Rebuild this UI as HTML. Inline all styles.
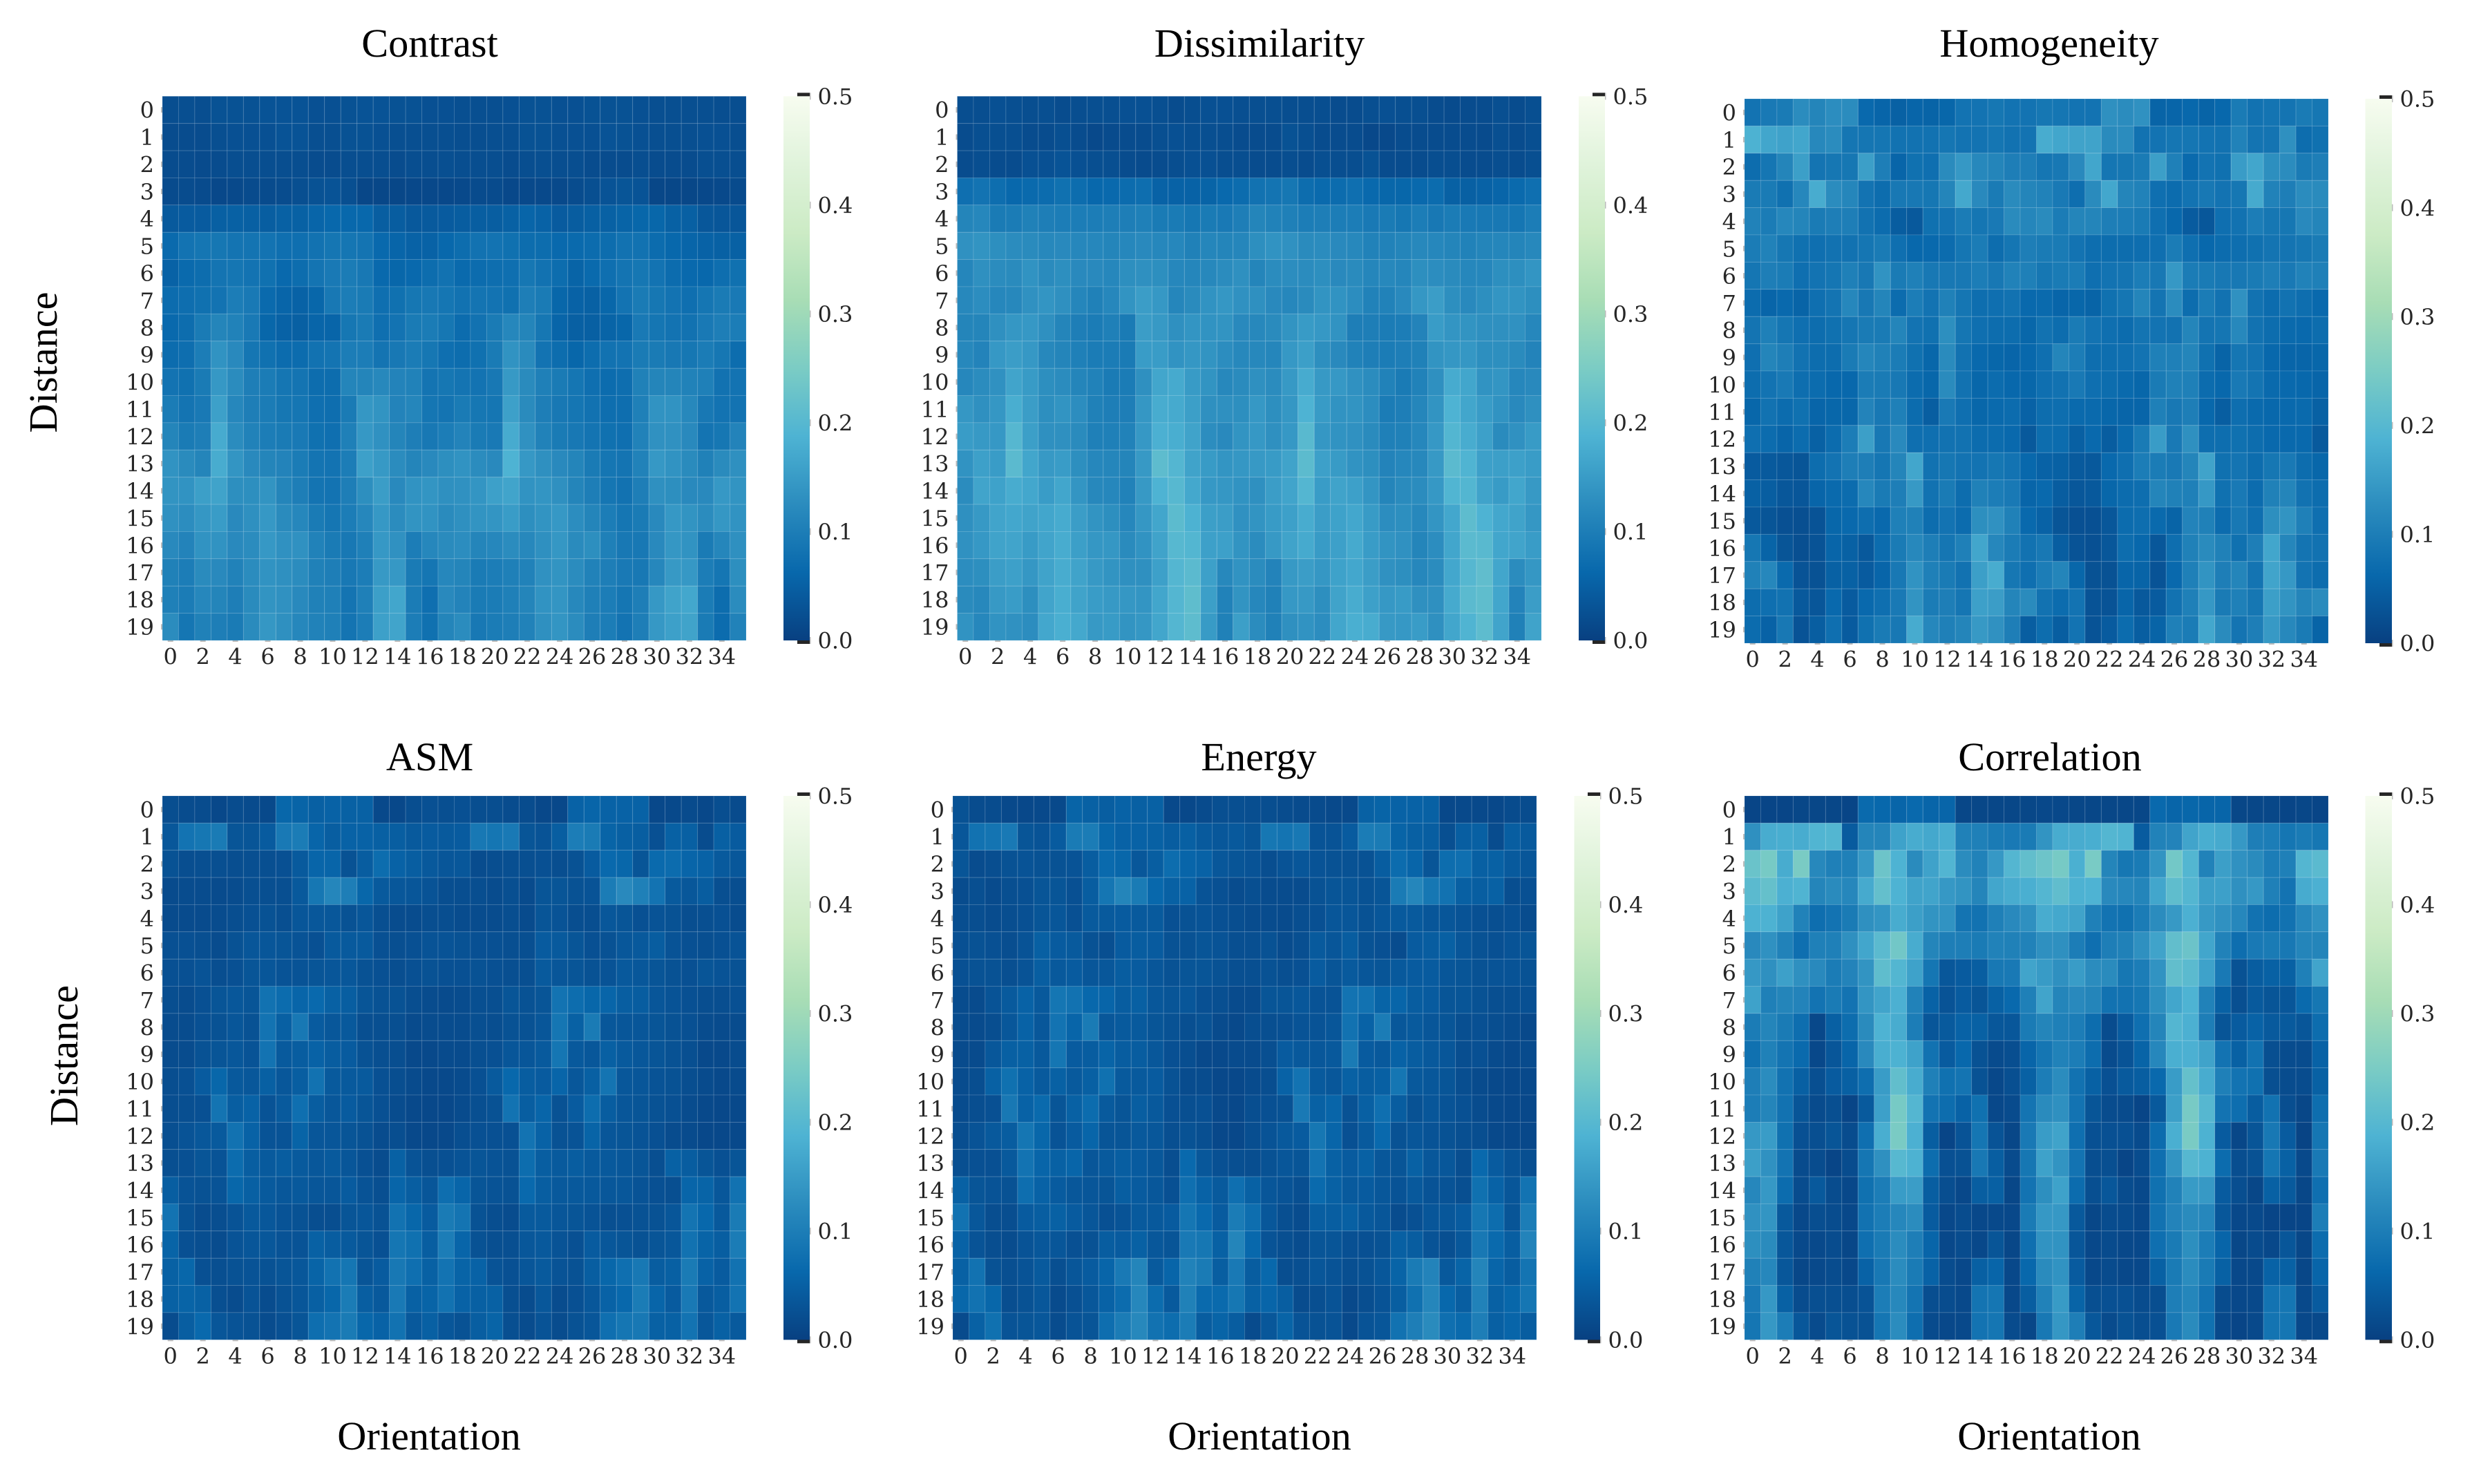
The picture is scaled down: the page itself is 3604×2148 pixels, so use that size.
<!DOCTYPE html>
<html lang="en">
<head>
<meta charset="utf-8">
<title>GLCM feature heatmaps</title>
<style>
  html, body { margin: 0; padding: 0; background: #fff; }
  svg { display: block; }
  .plot-title { font-family: "Liberation Serif", serif; font-size: 58.3px; fill: #000; text-anchor: middle; }
  .tick-label { font-family: "DejaVu Serif", serif; font-size: 32px; fill: #262626; }
</style>
</head>
<body>
<svg id="figure" xmlns="http://www.w3.org/2000/svg" width="3604" height="2148" viewBox="0 0 3604 2148">
  <defs>
    <linearGradient id="gnbu-r" x1="0" y1="1" x2="0" y2="0"></linearGradient>
  </defs>
  <rect x="0" y="0" width="3604" height="2148" fill="#fff"></rect>

  <g id="panel-contrast"></g>
  <g id="panel-dissimilarity"></g>
  <g id="panel-homogeneity"></g>
  <g id="panel-asm"></g>
  <g id="panel-energy"></g>
  <g id="panel-correlation"></g>

  <text class="plot-title" x="622" y="82">Contrast</text>
  <text class="plot-title" x="1823" y="82">Dissimilarity</text>
  <text class="plot-title" x="2966" y="82">Homogeneity</text>
  <text class="plot-title" x="622" y="1115">ASM</text>
  <text class="plot-title" x="1822" y="1115">Energy</text>
  <text class="plot-title" x="2967" y="1115">Correlation</text>

  <text class="plot-title" transform="translate(82 524.5) rotate(-90)">Distance</text>
  <text class="plot-title" transform="translate(112 1528) rotate(-90)">Distance</text>
  <text class="plot-title" x="621" y="2098">Orientation</text>
  <text class="plot-title" x="1823" y="2098">Orientation</text>
  <text class="plot-title" x="2966" y="2098">Orientation</text>
</svg>

<script>
// Category labels
const orientations = [0,1,2,3,4,5,6,7,8,9,10,11,12,13,14,15,16,17,18,19,20,21,22,23,24,25,26,27,28,29,30,31,32,33,34,35];
const distances = [0,1,2,3,4,5,6,7,8,9,10,11,12,13,14,15,16,17,18,19];
const colorbarTicks = [0, 0.1, 0.2, 0.3, 0.4, 0.5];
const valueMin = 0;
const valueMax = 0.5;
// Correction applied to the eye-read estimates below, which came out slightly low
const readingGain = 1.08;
const readingOffset = 0.004;

// Series values, in thousandths, one row per distance
const contrastValues = [
[16,18,16,22,22,22, 24,24,24,20,20,22, 24,24,22,22,20,20, 18,18,18,20,22,22, 20,20,22,22,22,20, 18,18,18,18,16,16],
[14,14,14,18,20,20, 20,24,24,18,18,22, 22,20,18,18,18,18, 16,16,18,18,22,22, 20,20,20,24,22,20, 18,18,18,20,20,16],
[14,14,12,14,16,16, 16,16,16,14,14,16, 16,16,14,16,16,18, 16,16,16,14,16,18, 16,16,14,14,14,16, 14,14,14,18,18,16],
[12,14,12,8,10,12, 12,14,18,22,24,18, 6,6,6,8,8,8, 10,12,12,8,10,10, 10,14,18,24,26,24, 6,6,6,8,10,12],
[34,36,36,42,44,42, 40,44,44,50,54,54, 54,40,38,32,34,36, 38,40,40,44,50,46, 36,38,42,44,48,52, 52,44,42,30,28,28],
[58,72,76,78,74,74, 72,66,66,70,76,76, 74,56,50,46,46,54, 62,70,72,68,62,62, 56,58,60,62,70,70, 60,54,50,46,44,44],
[46,58,62,74,76,72, 68,56,62,74,82,86, 80,56,52,56,62,70, 58,60,64,66,78,70, 62,48,58,66,74,78, 72,60,56,54,64,68],
[60,64,68,72,88,82, 58,50,46,52,80,88, 84,66,68,78,80,76, 70,74,72,68,90,84, 52,46,44,52,72,84, 78,72,66,76,84,82],
[56,62,84,100,96,82, 52,46,42,50,50,78, 84,66,72,84,86,78, 60,70,84,104,100,78, 50,42,42,48,52,82, 76,72,70,82,90,88],
[60,64,88,122,108,76, 68,60,60,70,74,88, 88,74,80,86,78,66, 62,68,84,122,110,72, 62,52,62,70,72,84, 84,80,78,86,78,62],
[72,68,84,130,112,90, 86,76,74,62,62,100, 100,106,98,96,74,78, 74,72,80,132,110,92, 84,76,66,60,64,94, 100,100,96,92,70,72],
[86,74,82,142,104,90, 86,78,76,66,64,84, 128,124,98,102,76,74, 84,78,76,142,110,90, 80,76,70,64,64,92, 122,122,106,80,72,72],
[100,84,90,158,112,96, 88,84,82,68,66,92, 130,120,100,90,80,88, 98,84,82,158,120,96, 84,80,74,68,66,96, 120,120,108,74,78,98],
[122,110,100,160,126,108, 100,98,86,74,72,88, 142,132,112,100,108,116, 122,112,108,170,130,118, 108,100,84,76,74,96, 130,122,110,94,110,118],
[124,122,140,146,116,116, 124,100,90,74,72,90, 116,138,108,122,126,118, 120,126,142,148,122,126, 118,100,90,76,70,90, 118,116,108,108,130,124],
[120,114,128,136,108,118, 130,110,104,84,76,88, 104,130,112,124,122,110, 118,124,126,136,116,124, 130,114,100,88,76,84, 108,130,124,112,128,122],
[108,98,122,122,108,112, 130,120,120,96,84,80, 92,130,120,88,104,110, 114,100,104,112,106,118, 128,110,116,92,80,80, 108,128,122,84,102,118],
[94,88,110,108,96,112, 122,118,112,94,90,80, 88,132,130,84,76,104, 100,84,88,92,96,120, 124,112,96,90,82,80, 104,132,130,88,76,116],
[92,86,104,100,90,110, 124,120,108,94,92,74, 92,140,150,86,66,108, 98,84,86,92,100,122, 126,106,92,88,76,90, 130,146,152,86,62,112],
[112,76,94,90,84,110, 128,118,104,96,92,74, 88,142,148,88,68,100, 112,80,86,90,96,118, 126,112,90,88,72,90, 130,142,146,84,60,96]
];

const dissimilarityValues = [
[16,16,20,18,16,18, 14,16,18,18,20,20, 18,14,16,20,20,18, 18,18,16,16,16,14, 14,18,20,18,18,14, 12,14,14,18,14,18],
[14,18,18,18,14,14, 18,14,10,12,14,14, 18,20,18,18,16,14, 14,14,22,18,14,14, 14,8,10,14,14,14, 14,14,12,18,14,18],
[14,16,14,14,20,20, 24,20,18,18,14,12, 14,16,20,20,16,16, 14,14,16,14,18,16, 16,22,14,14,14,16, 16,14,14,16,14,18],
[66,72,64,54,58,60, 68,62,54,56,60,64, 46,46,46,48,56,60, 70,74,78,62,58,60, 66,56,52,52,56,60, 44,42,46,50,58,66],
[100,104,84,86,94,90, 88,88,88,90,90,92, 84,84,78,84,82,90, 100,96,92,88,90,88, 88,82,84,78,88,80, 86,82,80,80,76,88],
[120,124,116,112,110,106, 108,104,104,100,104,108, 104,104,94,102,100,102, 116,122,120,110,112,108, 106,96,96,100,106,104, 100,96,100,102,100,106],
[102,118,112,110,122,110, 116,108,108,104,116,118, 116,104,102,106,112,118, 100,112,114,112,116,108, 110,102,106,102,116,114, 110,104,104,116,116,126],
[106,114,104,106,120,126, 118,102,94,104,124,138, 130,102,110,122,128,120, 118,108,104,110,124,122, 114,96,96,108,128,138, 116,108,116,126,124,116],
[100,100,118,128,130,118, 100,90,86,92,84,138, 132,118,126,122,124,108, 106,110,124,134,130,122, 90,90,86,88,98,136, 126,124,118,118,120,104],
[106,98,130,138,130,106, 100,92,86,86,84,136, 136,122,128,124,114,106, 106,102,130,140,116,108, 96,90,86,90,94,124, 128,128,116,116,110,98],
[104,112,120,148,134,116, 112,100,96,84,86,118, 150,156,134,124,106,110, 118,112,132,158,132,130, 120,112,96,84,96,118, 158,150,122,126,104,108],
[128,118,128,162,138,116, 124,114,94,90,90,128, 160,156,140,118,118,116, 130,116,128,170,134,122, 124,114,86,90,102,124, 170,150,136,122,108,118],
[136,132,130,180,140,118, 118,110,92,92,96,130, 166,162,146,114,108,124, 130,118,130,184,128,122, 120,110,92,94,104,130, 176,160,142,110,120,134],
[122,142,136,186,150,132, 136,116,104,102,100,132, 190,178,146,134,126,128, 132,134,146,188,142,134, 122,116,98,104,106,132, 186,172,142,140,142,136],
[112,148,144,160,152,136, 150,126,106,104,96,132, 170,182,154,130,128,122, 118,138,148,178,136,146, 142,126,100,110,112,130, 174,176,146,134,150,132],
[118,132,148,152,146,150, 158,138,124,116,104,128, 150,188,168,140,138,120, 124,134,142,160,138,144, 152,134,114,116,106,126, 152,190,170,152,146,128],
[120,130,146,148,134,148, 160,140,128,128,110,122, 146,182,176,142,142,124, 112,132,146,156,134,142, 156,136,124,120,100,114, 150,186,184,150,148,136],
[114,116,138,142,128,146, 160,146,132,124,118,118, 142,178,186,142,106,122, 112,98,132,138,128,144, 152,138,120,116,104,112, 152,180,194,150,112,128],
[110,106,132,136,116,148, 162,146,136,132,128,126, 150,178,192,140,96,124, 104,94,130,132,116,146, 160,142,130,134,118,118, 156,186,192,150,98,138],
[122,104,122,120,114,152, 164,154,132,134,124,128, 150,178,190,134,94,140, 112,94,118,122,114,150, 164,160,132,130,136,118, 150,172,190,148,94,146]
];

const homogeneityValues = [
[72,82,84,112,100,114, 112,56,50,44,50,48, 52,72,72,78,72,72, 78,76,72,72,118,112, 120,48,50,54,48,54, 84,70,74,74,84,78],
[168,150,145,150,106,112, 76,76,76,70,70,70, 76,72,72,76,70,72, 160,150,146,146,110,112, 70,72,76,76,72,70, 96,74,74,118,62,68],
[62,76,100,140,74,78, 78,140,90,50,68,66, 110,130,106,100,90,90, 76,80,108,150,76,78, 84,140,92,58,72,68, 136,150,116,112,84,90],
[84,84,68,104,160,112, 102,72,62,80,80,78, 100,154,108,84,110,100, 96,82,64,110,152,100, 96,66,60,72,80,72, 78,156,96,90,112,110],
[96,86,104,100,84,90, 90,70,60,38,32,68, 72,86,76,82,110,102, 110,86,100,100,90,88, 84,66,54,36,30,66, 70,88,78,78,108,100],
[86,96,78,68,66,70, 70,76,84,66,54,56, 60,76,86,62,76,90, 84,84,72,64,62,62, 64,66,86,66,54,60, 64,68,74,74,78,84],
[76,90,86,66,72,76, 92,80,122,84,92,80, 80,80,88,80,96,92, 78,84,86,66,72,74, 88,80,130,86,84,80, 80,84,90,82,96,92],
[60,50,56,48,66,74, 104,80,100,60,88,72, 94,76,64,66,70,56, 58,50,52,48,68,76, 100,74,112,62,86,70, 120,70,60,70,64,56],
[74,92,76,66,62,68, 76,84,84,100,72,68, 116,76,66,62,62,52, 70,62,84,72,66,60, 74,72,70,100,74,76, 106,70,62,58,56,62],
[66,100,90,70,62,62, 84,102,94,86,68,52, 110,70,56,52,50,54, 66,100,88,64,64,66, 72,92,92,100,68,48, 76,72,54,50,50,52],
[62,72,82,64,60,54, 54,86,84,80,60,52, 110,70,52,60,54,52, 66,70,82,66,62,58, 52,84,94,92,60,54, 82,74,58,56,54,50],
[52,70,60,68,50,52, 52,98,80,92,60,40, 82,66,52,58,60,46, 62,64,58,58,52,50, 50,92,80,90,54,40, 64,58,54,56,58,44],
[66,60,50,60,44,60, 88,140,80,108,66,66, 70,70,60,60,56,32, 62,60,42,56,38,58, 84,136,82,118,64,64, 68,62,56,56,56,34],
[36,34,30,26,62,72, 90,90,76,100,150,70, 78,72,72,78,72,54, 46,44,34,32,56,66, 88,86,82,100,146,68, 74,62,78,82,62,52],
[44,40,30,28,50,58, 60,104,84,90,132,70, 84,62,94,88,82,50, 56,38,30,32,52,60, 64,100,94,92,130,68, 82,60,94,100,70,62],
[32,26,20,18,24,52, 56,64,56,92,94,62, 72,60,116,120,94,56, 46,26,20,20,30,60, 64,58,48,98,94,60, 80,66,116,124,92,66],
[78,48,26,18,24,50, 44,32,60,84,106,90, 76,92,150,104,86,70, 80,40,24,20,30,62, 54,30,64,94,110,94, 68,90,150,102,74,70],
[94,104,58,24,22,44, 44,36,50,80,122,92, 84,70,140,160,78,66, 88,100,52,22,22,50, 48,24,56,92,124,90, 100,74,148,130,72,62],
[62,66,70,32,28,56, 36,56,66,82,124,86, 90,76,142,138,100,110, 70,60,72,24,24,50, 32,36,70,92,130,84, 92,78,140,124,100,110],
[60,46,80,24,40,66, 36,68,84,80,158,104, 92,100,132,120,90,40, 62,40,72,24,36,60, 40,48,92,86,152,110, 74,90,132,106,84,48]
];

const asmValues = [
[16,14,14,8,14,12, 10,52,48,42,46,44, 44,10,8,16,20,18, 20,16,16,14,14,8, 8,46,50,46,46,46, 8,10,12,8,16,12],
[30,72,78,84,26,26, 36,82,86,50,40,46, 46,42,40,34,36,34, 36,80,76,82,26,24, 40,88,84,48,42,40, 20,44,42,14,42,36],
[22,16,18,18,16,18, 18,20,34,50,50,22, 38,62,46,40,32,28, 30,14,16,18,18,20, 16,22,36,56,52,26, 58,60,50,46,34,30],
[12,14,14,12,14,18, 18,18,32,78,102,90, 52,34,30,28,24,16, 16,16,14,18,12,26, 26,22,24,86,108,92, 72,34,30,38,18,16],
[12,12,12,14,16,20, 22,18,28,30,30,22, 28,18,14,14,16,16, 14,14,14,16,12,26, 24,16,16,30,26,20, 24,22,16,18,20,14],
[20,20,18,14,22,28, 28,26,24,20,34,34, 34,20,18,20,24,24, 22,20,20,18,18,36, 34,26,20,22,30,32, 38,24,20,18,20,24],
[20,20,24,16,20,26, 28,24,24,26,28,30, 22,20,16,20,22,20, 20,22,20,18,18,34, 28,26,22,24,32,30, 26,22,20,26,24,22],
[16,14,20,26,30,26, 70,60,50,56,44,40, 26,22,22,16,14,12, 14,18,18,26,22,26, 72,62,52,50,40,38, 28,24,20,16,16,20],
[14,14,20,22,28,22, 72,42,80,36,30,32, 18,18,18,12,14,14, 14,18,16,22,22,28, 76,44,84,30,28,28, 26,22,20,14,12,14],
[14,14,22,26,30,24, 72,34,38,46,38,36, 22,18,16,10,10,12, 12,18,20,28,28,34, 76,32,30,42,34,30, 26,22,18,10,10,14],
[16,20,36,52,32,30, 42,30,40,70,34,34, 34,20,16,12,10,10, 12,20,34,54,38,36, 50,30,42,74,30,28, 24,22,16,12,10,12],
[16,18,20,74,40,46, 24,34,66,38,30,36, 26,20,14,10,8,8, 12,18,22,72,40,50, 22,36,62,38,28,26, 22,20,14,10,8,10],
[18,24,30,34,70,46, 24,24,48,28,28,26, 22,14,16,10,8,10, 16,20,20,20,72,46, 22,24,48,28,26,24, 20,14,12,8,8,10],
[18,20,26,24,60,40, 34,38,34,30,34,28, 20,14,44,24,18,20, 24,26,24,22,62,40, 34,38,34,32,30,26, 18,44,38,26,20,26],
[40,24,22,24,52,42, 34,30,32,28,28,36, 24,18,50,40,28,64, 50,26,24,22,56,40, 32,32,32,30,30,24, 20,18,50,48,30,70],
[72,22,14,16,24,32, 30,24,22,16,16,26, 28,22,70,52,36,84, 74,22,16,14,34,34, 28,26,24,18,20,22, 22,28,74,54,32,84],
[48,20,16,14,24,28, 30,24,24,44,38,34, 26,20,76,68,40,88, 50,22,18,18,30,32, 24,20,36,30,26,22, 26,30,70,48,40,86],
[44,52,20,18,22,24, 22,26,30,48,70,76, 26,36,80,66,44,72, 48,46,24,20,28,34, 24,22,40,52,66,80, 38,42,84,46,36,70],
[44,48,44,18,14,24, 14,22,28,42,52,86, 40,32,82,44,48,70, 46,42,44,18,14,30, 14,20,30,46,54,86, 50,36,82,32,40,72],
[14,40,56,28,24,22, 14,20,26,64,72,84, 52,46,70,32,42,28, 22,40,48,18,14,24, 14,22,28,66,76,80, 44,44,72,30,44,34]
];

const energyValues = [
[22,14,14,10,8,10, 10,48,44,40,46,42, 44,10,8,12,18,18, 16,16,14,12,12,10, 10,44,48,46,46,44, 8,10,10,8,12,14],
[28,70,74,82,26,24, 36,84,86,52,46,46, 44,38,42,34,30,32, 26,78,74,80,24,24, 36,86,84,48,42,40, 18,40,42,14,40,34],
[26,14,16,22,24,22, 22,24,38,58,52,30, 40,62,50,46,30,26, 24,16,24,28,24,22, 22,22,38,60,50,26, 62,66,42,44,34,28],
[14,18,12,18,20,26, 26,20,38,76,100,84, 54,44,46,24,20,14, 18,14,14,14,22,26, 26,22,26,84,102,78, 70,42,40,44,16,20],
[16,16,14,16,20,26, 28,20,34,34,36,34, 34,20,22,24,20,16, 14,14,12,16,20,28, 28,22,28,34,34,28, 28,24,20,18,20,14],
[20,22,20,16,24,42, 36,34,22,18,36,38, 36,22,22,26,24,18, 18,22,14,18,34,28, 38,22,20,14,36,38, 42,28,22,20,24,26],
[20,22,22,18,24,40, 32,36,28,30,38,36, 28,22,26,26,22,18, 18,22,18,20,36,26, 34,28,26,32,36,36, 28,26,22,24,24,22],
[14,12,24,34,46,32, 76,70,54,50,38,42, 30,26,28,20,18,12, 12,26,26,30,24,24, 72,70,48,50,38,36, 26,26,22,18,18,20],
[14,12,16,30,46,30, 72,50,84,30,34,34, 26,22,18,22,12,10, 16,18,20,24,24,28, 70,46,86,30,34,28, 26,18,20,16,14,10],
[12,12,30,42,44,32, 76,36,38,48,38,38, 30,20,16,10,10,12, 12,18,36,32,30,32, 84,36,32,46,38,32, 28,16,20,12,10,12],
[14,16,44,68,46,34, 44,34,42,68,34,34, 36,22,14,14,8,8, 12,16,46,72,34,30, 44,38,42,76,32,30, 26,16,12,10,8,10],
[14,16,20,80,46,58, 26,44,60,34,26,40, 32,20,18,20,10,8, 16,20,22,82,44,50, 22,42,66,38,22,28, 24,20,14,10,8,8],
[16,24,32,38,76,52, 24,36,50,26,26,32, 30,18,22,18,8,8, 16,24,32,36,78,50, 20,34,56,22,28,24, 22,18,16,10,8,8],
[18,20,20,32,72,50, 44,50,28,34,40,36, 30,16,56,30,20,18, 16,22,28,26,72,44, 36,44,30,26,44,30, 30,16,56,36,24,18],
[44,26,24,22,64,46, 36,30,28,26,40,36, 30,20,66,46,34,66, 44,28,24,18,58,44, 34,36,30,24,32,24, 24,18,68,46,28,72],
[70,30,16,16,36,40, 44,36,28,20,24,34, 32,36,76,56,36,86, 64,30,18,14,40,40, 42,32,28,14,20,28, 30,36,78,62,26,88],
[46,24,16,14,24,30, 28,20,22,38,36,44, 30,26,82,78,44,100, 54,24,18,14,26,26, 20,20,22,42,38,24, 18,30,80,58,40,98],
[44,70,22,18,24,34, 18,28,36,50,82,100, 34,50,96,84,40,82, 38,54,16,18,28,24, 18,22,30,48,84,98, 32,48,100,50,38,74],
[52,70,52,16,22,30, 12,20,30,46,60,104, 60,34,94,58,58,78, 44,50,40,14,18,24, 10,16,24,40,68,102, 54,40,96,44,52,76],
[12,44,68,24,26,30, 14,24,26,64,86,106, 70,62,86,38,48,38, 12,30,48,24,22,24, 10,24,28,70,90,110, 66,58,90,42,50,38]
];

const correlationValues = [
[4,4,4,6,6,6, 4,58,54,50,56,50, 50,6,6,6,6,6, 8,8,6,6,6,6, 6,56,50,52,50,50, 6,6,6,4,6,4],
[118,160,162,160,174,176, 36,100,100,144,160,154, 162,94,92,84,82,84, 124,160,160,162,178,172, 36,96,98,148,162,156, 130,90,88,76,84,78],
[206,222,160,226,106,92, 92,130,210,170,110,145, 175,112,96,130,178,195, 210,222,165,225,100,78, 84,124,218,176,96,140, 120,110,88,92,178,186],
[186,200,166,172,100,110, 104,156,198,170,146,148, 130,124,100,150,160,164, 178,194,168,170,108,104, 100,150,192,178,140,142, 118,130,92,72,158,166],
[168,168,144,96,64,72, 84,118,126,160,140,124, 122,74,70,92,108,118, 160,154,146,92,72,68, 86,112,132,166,132,120, 104,70,62,70,104,120],
[108,120,96,66,92,92, 118,150,186,216,160,100, 90,90,84,96,94,96, 118,118,88,66,90,94, 118,146,196,208,150,96, 64,82,84,80,100,100],
[130,118,142,118,108,86, 98,124,192,176,144,76, 30,36,40,80,82,148, 134,118,136,112,110,78, 88,122,196,186,144,82, 22,38,44,44,92,148],
[144,92,100,98,72,84, 72,126,148,166,96,46, 24,36,26,44,56,92, 148,100,108,100,70,70, 78,116,150,170,96,44, 18,34,26,28,58,78],
[86,100,84,64,8,42, 62,110,170,160,88,28, 34,46,44,30,30,84, 100,92,88,62,14,36, 66,100,178,166,90,26, 36,46,34,34,28,62],
[68,94,74,58,8,28, 50,108,162,168,144,70, 36,54,22,12,16,50, 76,96,88,62,12,24, 48,104,164,166,146,72, 44,70,18,14,14,46],
[90,112,70,42,18,36, 42,64,136,196,160,92, 68,74,22,8,18,44, 88,112,70,44,20,34, 40,56,136,200,160,92, 72,68,18,14,14,44],
[88,100,70,26,12,18, 4,34,142,222,178,72, 62,46,68,8,12,74, 110,118,72,26,14,12, 4,32,140,224,180,72, 64,38,70,16,6,64],
[130,136,68,20,18,26, 14,66,162,226,166,40, 4,24,76,24,6,82, 136,146,66,20,20,20, 12,60,164,226,168,36, 6,26,80,36,2,76],
[140,120,72,12,14,4, 14,76,118,182,168,62, 20,22,80,40,12,78, 144,124,72,16,18,4, 14,66,124,180,168,60, 16,22,76,44,10,82],
[104,130,60,14,32,14, 8,68,88,136,138,40, 16,8,40,42,6,72, 116,144,60,18,30,14, 10,68,96,134,132,36, 16,6,44,34,6,66],
[120,126,32,8,16,14, 8,70,88,104,112,36, 8,14,8,10,8,84, 130,130,32,6,14,12, 8,70,98,110,104,30, 8,10,4,4,4,88],
[116,110,30,10,10,14, 6,66,84,112,90,50, 8,14,8,26,6,66, 122,122,28,8,12,8, 8,66,84,116,88,50, 6,12,8,28,6,60],
[94,104,30,6,10,14, 8,46,80,112,84,46, 14,8,42,50,8,54, 110,122,36,8,12,8, 8,44,84,112,84,44, 8,10,46,44,6,50],
[82,130,44,14,18,18, 16,24,88,106,74,16, 14,10,74,76,8,40, 96,134,48,18,20,20, 14,16,90,102,72,14, 8,10,72,76,10,36],
[76,130,88,30,12,26, 22,22,76,112,64,12, 8,10,72,76,12,6, 80,128,90,30,12,22, 16,20,82,110,68,10, 4,10,74,76,8,10]
];

// GnBu reversed palette, evenly spaced from low to high
const paletteColors = ['#084081','#0868ac','#2b8cbe','#4eb3d3','#7bccc4','#a8ddb5','#ccebc5','#e0f3db','#f7fcf0'];

const SVG_NS = 'http://www.w3.org/2000/svg';

function hexToRgb(hex) {
  return [1, 3, 5].map(function (i) { return parseInt(hex.substr(i, 2), 16); });
}

function colorScale(value) {
  const t = Math.max(0, Math.min(1, (value - valueMin) / (valueMax - valueMin)));
  const pos = t * (paletteColors.length - 1);
  const lo = Math.min(Math.floor(pos), paletteColors.length - 2);
  const f = pos - lo;
  const a = hexToRgb(paletteColors[lo]);
  const b = hexToRgb(paletteColors[lo + 1]);
  const rgb = a.map(function (c, i) { return Math.round(c + (b[i] - c) * f); });
  return 'rgb(' + rgb.join(',') + ')';
}

function drawPanel(layout) {
  const group = document.getElementById(layout.id);
  const values = layout.values;
  const plotW = layout.right - layout.left;
  const plotH = layout.bottom - layout.top;
  const xScale = function (i) { return layout.left + i * plotW / orientations.length; };
  const yScale = function (i) { return layout.top + i * plotH / distances.length; };
  const cbScale = function (v) { return layout.bottom - (v - valueMin) / (valueMax - valueMin) * plotH; };

  values.forEach(function (row, r) {
    row.forEach(function (v, c) {
      const cell = document.createElementNS(SVG_NS, 'rect');
      
      
      cell.setAttribute('x', xScale(c).toFixed(2));
      cell.setAttribute('y', yScale(r).toFixed(2));
      cell.setAttribute('width', (plotW / orientations.length).toFixed(2));
      cell.setAttribute('height', (plotH / distances.length).toFixed(2));
      cell.setAttribute('fill', colorScale(v / 1000 * readingGain + readingOffset));
      cell.setAttribute('stroke', '#ffffff');
      cell.setAttribute('stroke-opacity', '0.13');
      cell.setAttribute('stroke-width', '1');
      group.appendChild(cell);
    });
  });

  distances.forEach(function (d, r) {
    const cy = yScale(r + 0.5);
    const stub = document.createElementNS(SVG_NS, 'rect');
    
    
    stub.setAttribute('x', layout.left - 2);
    stub.setAttribute('y', cy - 4);
    stub.setAttribute('width', 2);
    stub.setAttribute('height', 8);
    stub.setAttribute('fill', '#bbbbbb');
    group.appendChild(stub);
    const label = document.createElementNS(SVG_NS, 'text');
    
    
    label.setAttribute('class', 'tick-label');
    label.setAttribute('x', layout.left - 12);
    label.setAttribute('y', (cy + 11.7).toFixed(1));
    label.setAttribute('text-anchor', 'end');
    label.textContent = d;
    group.appendChild(label);
  });

  orientations.forEach(function (o, c) {
    if (c % 2 !== 0) return;
    const cx = xScale(c + 0.5);
    const stub = document.createElementNS(SVG_NS, 'rect');
    
    
    stub.setAttribute('x', cx - 4);
    stub.setAttribute('y', layout.bottom);
    stub.setAttribute('width', 8);
    stub.setAttribute('height', 2);
    stub.setAttribute('fill', '#bbbbbb');
    group.appendChild(stub);
    const label = document.createElementNS(SVG_NS, 'text');
    
    
    label.setAttribute('class', 'tick-label');
    label.setAttribute('x', cx.toFixed(1));
    label.setAttribute('y', layout.bottom + 34.5);
    label.setAttribute('text-anchor', 'middle');
    label.textContent = o;
    group.appendChild(label);
  });

  colorbarTicks.forEach(function (t) {
    const tick = document.createElementNS(SVG_NS, 'rect');
    
    
    tick.setAttribute('x', layout.cbRight - 18);
    tick.setAttribute('y', cbScale(t) - 5);
    tick.setAttribute('width', 18);
    tick.setAttribute('height', 10);
    tick.setAttribute('fill', '#262626');
    group.appendChild(tick);
  });

  const bar = document.createElementNS(SVG_NS, 'rect');
  
  
  bar.setAttribute('x', layout.cbLeft);
  bar.setAttribute('y', layout.top);
  bar.setAttribute('width', layout.cbRight - layout.cbLeft);
  bar.setAttribute('height', plotH);
  bar.setAttribute('fill', 'url(#gnbu-r)');
  group.appendChild(bar);

  colorbarTicks.forEach(function (t) {
    const stub = document.createElementNS(SVG_NS, 'rect');
    
    
    stub.setAttribute('x', layout.cbRight);
    stub.setAttribute('y', cbScale(t) - 5);
    stub.setAttribute('width', 1.5);
    stub.setAttribute('height', 10);
    stub.setAttribute('fill', '#bbbbbb');
    group.appendChild(stub);
    const label = document.createElementNS(SVG_NS, 'text');
    
    
    label.setAttribute('class', 'tick-label');
    label.setAttribute('x', layout.cbRight + 11.5);
    label.setAttribute('y', (cbScale(t) + 11.7).toFixed(1));
    label.textContent = t.toFixed(1);
    group.appendChild(label);
  });
}

const gradient = document.getElementById('gnbu-r');
paletteColors.forEach(function (color, i) {
  const stop = document.createElementNS(SVG_NS, 'stop');
  stop.setAttribute('offset', i / (paletteColors.length - 1));
  stop.setAttribute('stop-color', color);
  gradient.appendChild(stop);
});

drawPanel({ id: 'panel-contrast', values: contrastValues, left: 235, right: 1080, top: 139.3, bottom: 927, cbLeft: 1134, cbRight: 1172 });
drawPanel({ id: 'panel-dissimilarity', values: dissimilarityValues, left: 1385.5, right: 2231, top: 139.3, bottom: 927, cbLeft: 2285, cbRight: 2323 });
drawPanel({ id: 'panel-homogeneity', values: homogeneityValues, left: 2525, right: 3370, top: 143, bottom: 931, cbLeft: 3423.5, cbRight: 3462 });
drawPanel({ id: 'panel-asm', values: asmValues, left: 235, right: 1080, top: 1152, bottom: 1939.3, cbLeft: 1134, cbRight: 1172 });
drawPanel({ id: 'panel-energy', values: energyValues, left: 1379, right: 2224, top: 1152, bottom: 1939.3, cbLeft: 2278.5, cbRight: 2316 });
drawPanel({ id: 'panel-correlation', values: correlationValues, left: 2525, right: 3370, top: 1152, bottom: 1939.3, cbLeft: 3423.5, cbRight: 3462 });
</script>
</body>
</html>
